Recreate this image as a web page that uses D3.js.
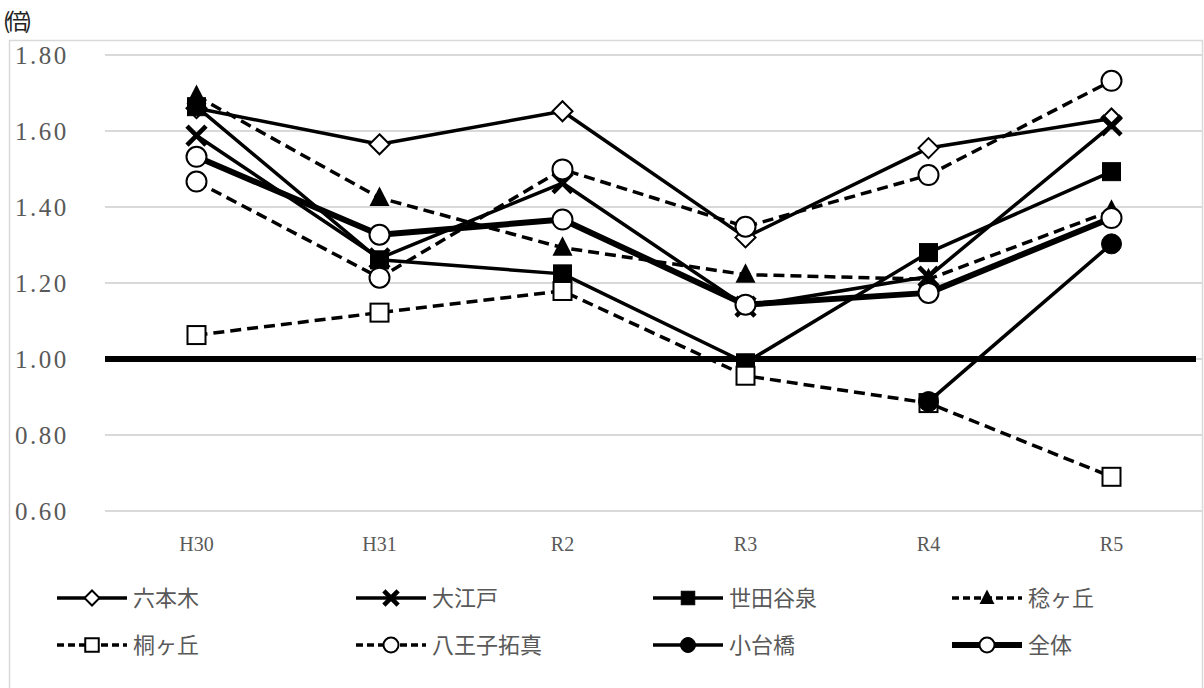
<!DOCTYPE html>
<html><head><meta charset="utf-8">
<script src="https://cdn.jsdelivr.net/npm/d3@7"></script>
<style>
html,body{margin:0;padding:0;background:#fff;}
svg{display:block;}
</style></head>
<body>
<svg id="chart" width="1204" height="688"></svg>
<script>
const categories = ["H30","H31","R2","R3","R4","R5"];
const yTicks = [0.60,0.80,1.00,1.20,1.40,1.60,1.80];
const unitLabel = "(倍)";
const seriesNames = ["六本木","大江戸","世田谷泉","稔ヶ丘","桐ヶ丘","八王子拓真","小台橋","全体"];
const roppongi   = [1.66,1.565,1.652,1.32,1.555,1.633];
const oedo       = [1.588,1.265,1.463,1.138,1.217,1.615];
const setagaya   = [1.664,1.261,1.224,0.99,1.28,1.493];
const minorigaoka= [1.692,1.424,1.293,1.222,1.21,1.39];
const kirigaoka  = [1.063,1.122,1.179,0.956,0.884,0.69];
const hachioji   = [1.467,1.214,1.499,1.348,1.484,1.732];
const odaibashi  = [null,null,null,null,0.888,1.303];
const overall    = [1.532,1.327,1.367,1.143,1.174,1.371];
const referenceValue = 1.00;

const seriesValues = [roppongi,oedo,setagaya,minorigaoka,kirigaoka,hachioji,odaibashi,overall];
const seriesMarker = ["diamond","cross","square","triangle","squareOpen","circleOpen","circle","circleOpen"];
const seriesDashed = [false,false,false,true,true,true,false,false];
const seriesWidth  = [3.5,3.5,3.5,3.5,3.5,3.5,3.5,6];

const SERIF = "Liberation Serif, DejaVu Serif, serif";
const CJK = "Noto Sans CJK JP, sans-serif";

const svg = d3.select("#chart");
const plot = {left:105, right:1203, top:55, bottom:511};

// chart border
svg.append("rect").attr("x",9.5).attr("y",40.5).attr("width",1193).attr("height",700)
  .attr("fill","none").attr("stroke","#d9d9d9").attr("stroke-width",1.5);

svg.append("text").attr("x",3).attr("y",29).text(unitLabel)
  .attr("font-family",CJK).attr("font-size",22).attr("fill","#222")
  .attr("letter-spacing",-4);

const x = d3.scaleBand().domain(categories).range([plot.left, plot.right]).padding(0);
const y = d3.scaleLinear().domain([0.6,1.8]).range([plot.bottom, plot.top]);
const cx = d => x(d) + x.bandwidth()/2;
const fmt = d3.format(".2f");

// grid
svg.append("g").selectAll("line").data(yTicks).join("line")
  .attr("x1",plot.left).attr("x2",plot.right)
  .attr("y1",d=>y(d)).attr("y2",d=>y(d))
  .attr("stroke","#d9d9d9").attr("stroke-width",2);

// y tick labels
svg.append("g").selectAll("text").data(yTicks).join("text")
  .attr("x",15).attr("y",d=>y(d)).attr("dy","0.35em")
  .attr("font-family",SERIF).attr("font-size",25).attr("fill","#595959")
  .attr("letter-spacing",2.5)
  .text(d=>fmt(d));

// x tick labels
svg.append("g").selectAll("text").data(categories).join("text")
  .attr("x",d=>cx(d)).attr("y",plot.bottom+40).attr("text-anchor","middle")
  .attr("font-family",SERIF).attr("font-size",20).attr("fill","#595959")
  .text(d=>d);

// reference line at 1.00
svg.append("line").attr("x1",plot.left).attr("x2",plot.right-7)
  .attr("y1",y(referenceValue)).attr("y2",y(referenceValue))
  .attr("stroke","#000").attr("stroke-width",6);

function markerPath(g, type, s, sw){
  const r = s/2;
  if(type==="diamond"){
    g.append("path").attr("d",`M0,${-r}L${r},0L0,${r}L${-r},0Z`).attr("fill","#fff").attr("stroke","#000").attr("stroke-width",sw);
  } else if(type==="cross"){
    const k=r*0.95;
    g.append("path").attr("d",`M${-k},${-k}L${k},${k}M${-k},${k}L${k},${-k}`).attr("stroke","#000").attr("stroke-width",sw*2.3).attr("fill","none");
  } else if(type==="square"){
    const k=r*0.9;
    g.append("rect").attr("x",-k).attr("y",-k).attr("width",2*k).attr("height",2*k).attr("fill","#000").attr("stroke","#000").attr("stroke-width",1);
  } else if(type==="squareOpen"){
    const k=r*0.9;
    g.append("rect").attr("x",-k).attr("y",-k).attr("width",2*k).attr("height",2*k).attr("fill","#fff").attr("stroke","#000").attr("stroke-width",sw);
  } else if(type==="triangle"){
    g.append("path").attr("d",`M0,${-r*1.15}L${r},${r*0.8}L${-r},${r*0.8}Z`).attr("fill","#000");
  } else if(type==="circle"){
    g.append("circle").attr("r",r).attr("fill","#000").attr("stroke","#000");
  } else if(type==="circleOpen"){
    g.append("circle").attr("r",r).attr("fill","#fff").attr("stroke","#000").attr("stroke-width",sw);
  }
}

const line = d3.line().defined(d=>d.v!==null).x(d=>cx(d.c)).y(d=>y(d.v));

seriesNames.forEach((name,i)=>{
  const data = categories.map((c,j)=>({c, v: seriesValues[i][j]}));
  const g = svg.append("g");
  g.append("path").datum(data).attr("d",line).attr("fill","none").attr("stroke","#000")
    .attr("stroke-width",seriesWidth[i]).attr("stroke-dasharray",seriesDashed[i]?"11,6":null)
    .attr("stroke-linejoin","round");
  data.filter(d=>d.v!==null).forEach(d=>{
    const m = g.append("g").attr("transform",`translate(${cx(d.c)},${y(d.v)})`);
    markerPath(m, seriesMarker[i], 20, 2);
  });
});

// legend
const legX = [57,356,653,952];
const legY = [598,645];
seriesNames.forEach((name,i)=>{
  const lx = legX[i%4], ly = legY[Math.floor(i/4)];
  const g = svg.append("g");
  g.append("line").attr("x1",lx).attr("x2",lx+70).attr("y1",ly).attr("y2",ly)
    .attr("stroke","#000").attr("stroke-width",i===7?6:3.5)
    .attr("stroke-dasharray",seriesDashed[i]?"7,4":null);
  const m = g.append("g").attr("transform",`translate(${lx+35},${ly})`);
  markerPath(m, seriesMarker[i], 15, 2);
  g.append("text").attr("x",lx+76).attr("y",ly).attr("dy","0.36em").text(name)
    .attr("font-family",CJK).attr("font-size",22).attr("fill","#595959");
});
</script>
</body></html>
